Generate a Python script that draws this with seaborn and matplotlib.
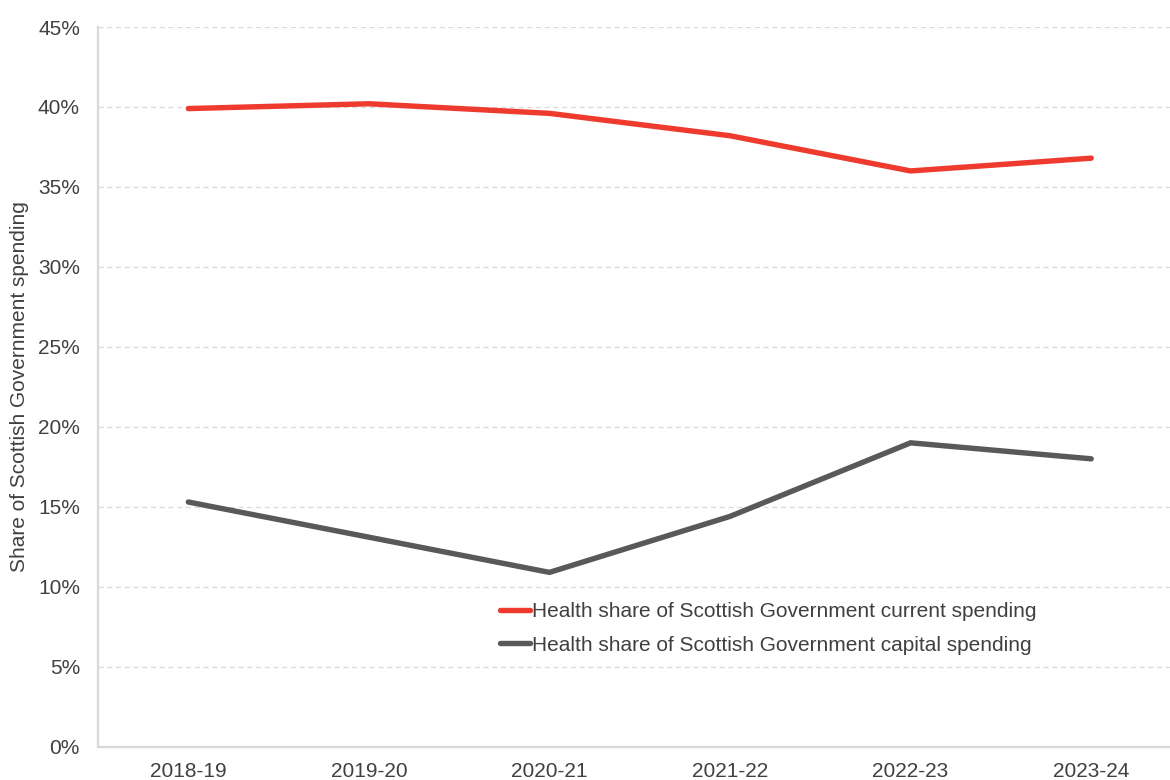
import matplotlib
matplotlib.use("Agg")
import matplotlib.pyplot as plt
import seaborn as sns
import pandas as pd
from matplotlib.ticker import FuncFormatter

# Financial years on the x axis
years = ["2018-19", "2019-20", "2020-21", "2021-22", "2022-23", "2023-24"]

# Health share of Scottish Government spending (%)
current_share = [39.9, 40.2, 39.6, 38.2, 36.0, 36.8]
capital_share = [15.3, 13.1, 10.9, 14.4, 19.0, 18.0]

series_names = [
    "Health share of Scottish Government current spending",
    "Health share of Scottish Government capital spending",
]
series_colors = ["#EE3B2E", "#595959"]

y_ticks = [0, 5, 10, 15, 20, 25, 30, 35, 40, 45]

df = pd.DataFrame({
    "year": years * 2,
    "share": current_share + capital_share,
    "series": [series_names[0]] * len(years) + [series_names[1]] * len(years),
})

sns.set_theme(style="white")
plt.rcParams["font.family"] = ["Liberation Sans", "DejaVu Sans"]
text_color = "#404040"
font_size = 15

fig = plt.figure(figsize=(11.7, 7.8), dpi=100)
ax = fig.add_axes([98 / 1170, 1 - 746.7 / 780, 1083.5 / 1170, 719.7 / 780])

sns.lineplot(
    data=df, x="year", y="share", hue="series",
    palette=dict(zip(series_names, series_colors)),
    linewidth=3.9, ax=ax, sort=False,
)
for line in ax.get_lines():
    line.set_solid_capstyle("round")
    line.set_solid_joinstyle("miter")

ax.set_xlim(-0.5, len(years) - 0.5)
ax.set_ylim(0, 45)
ax.set_yticks(y_ticks)
ax.yaxis.set_major_formatter(FuncFormatter(lambda v, _: f"{v:.0f}%"))

ax.grid(axis="y", color="#d9d9d9", linestyle=(0, (4, 3)), linewidth=0.9)
ax.grid(axis="x", visible=False)
ax.set_axisbelow(True)

for side in ["top", "right"]:
    ax.spines[side].set_visible(False)
for side in ["left", "bottom"]:
    ax.spines[side].set_color("#d9d9d9")
    ax.spines[side].set_linewidth(1.6)

ax.tick_params(axis="y", length=0, pad=13, labelsize=font_size, labelcolor=text_color)
ax.tick_params(axis="x", length=0, pad=11, labelsize=font_size, labelcolor=text_color)

ax.set_xlabel("")
ax.set_ylabel("Share of Scottish Government spending", fontsize=font_size, color=text_color)
ax.yaxis.set_label_coords(-0.0637, 0.5)

handles, labels = ax.get_legend_handles_labels()
ax.legend(
    handles, labels, loc="upper left",
    bbox_to_anchor=(500 / 1170, 1 - 602 / 780), bbox_transform=fig.transFigure,
    frameon=False, fontsize=font_size, labelcolor=text_color,
    handlelength=1.45, handletextpad=0.1, borderpad=0, borderaxespad=0,
    labelspacing=0.7,
)

fig.savefig("out.png", dpi=100)
